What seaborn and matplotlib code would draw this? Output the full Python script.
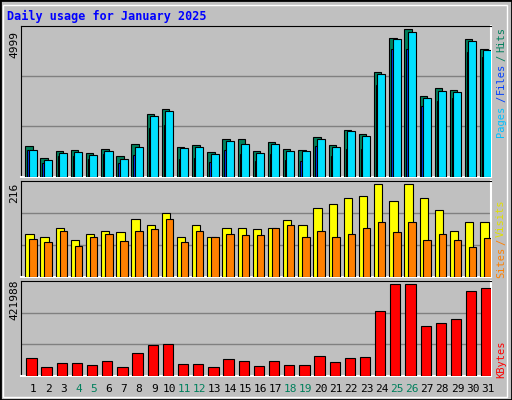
import numpy as np
import matplotlib
matplotlib.use("Agg")
import matplotlib.pyplot as plt
import seaborn as sns
from matplotlib.patches import Rectangle

sns.set_style("white")
plt.rcParams['font.family'] = ['DejaVu Sans Mono', 'DejaVu Sans']

days = list(range(1, 32))
weekend = [4, 5, 11, 12, 18, 19, 25, 26]
hits = [1011,611,844,878,778,911,678,1078,2078,2244,978,1044,811,1244,1244,844,1144,911,878,1311,1044,1544,1411,3478,4611,4911,2678,2944,2878,4578,4244]
files = [878,444,678,678,578,744,444,711,1611,1711,578,611,478,878,744,511,744,544,511,1011,678,911,911,3044,4244,4244,2344,2511,2611,4144,3978]
pages = [878,544,778,811,711,844,578,978,2011,2178,944,978,744,1178,1078,778,1078,844,844,1244,978,1511,1344,3411,4578,4811,2611,2844,2811,4511,4211]
visits = [101,92,113,85,99,108,104,134,122,148,92,122,92,113,115,111,115,132,122,160,169,183,188,216,176,216,183,155,106,129,127]
sites = [87,80,106,71,94,99,83,106,111,134,80,108,94,101,97,97,115,122,92,106,92,101,115,129,104,129,85,99,85,69,90]
kbytes = [80080,38500,56980,56980,47740,66220,38500,103180,140140,144760,52360,52360,38500,75460,66220,43120,66220,47740,47740,89320,61600,80080,84700,297220,421988,421988,227920,241780,260260,389620,403480]

W, H = 512, 400
BG = "#c0c0c0"
fig = plt.figure(figsize=(W/100, H/100), dpi=100, facecolor=BG)

fig.patches.append(Rectangle((0, 0), 1, 1, transform=fig.transFigure, fill=False, ec="black", lw=2))
fig.patches.append(Rectangle((3/W, 3/H), (W-8)/W, (H-8)/H, transform=fig.transFigure, fill=False, ec="white", lw=1))

def mkax(top, bottom):
    l, r = 20.7, 490.7
    ax = fig.add_axes([l/W, 1-bottom/H, (r-l)/W, (bottom-top)/H])
    ax.set_facecolor(BG)
    for s in ["top", "left"]:
        ax.spines[s].set_color("black")
    for s in ["bottom", "right"]:
        ax.spines[s].set_color("white")
        ax.spines[s].set_linewidth(1.5)
    ax.set_xlim(-0.5, 30.5)
    ax.set_xticks([])
    return ax

x = np.arange(31)
kw = dict(edgecolor="black", linewidth=0.8, zorder=3)

ax1 = mkax(26, 176.7)
top1 = 4999
ax1.set_ylim(0, top1)
ax1.bar(x + 0.05, hits, width=0.49, color="#00805c", **kw)
ax1.bar(x + 0.0, files, width=0.13, color="#0040ff", **kw)
ax1.bar(x + 0.29, pages, width=0.53, color="#00e0ff", **kw)
for g in (1/3, 2/3):
    ax1.axhline(top1*g, color="#808080", lw=1, zorder=1)
ax1.set_yticks([])

ax2 = mkax(181, 276.7)
top2 = 216*287/277
ax2.set_ylim(0, top2)
ax2.bar(x + 0.08, visits, width=0.55, color="#ffff00", **kw)
ax2.bar(x + 0.31, sites, width=0.49, color="#ff8000", **kw)
for g in (1/3, 2/3):
    ax2.axhline(top2*g, color="#808080", lw=1, zorder=1)
ax2.set_yticks([])

ax3 = mkax(281, 375.7)
top3 = 421988*284/274
ax3.set_ylim(0, top3)
ax3.bar(x + 0.21, kbytes, width=0.68, color="#ff0000", **kw)
for g in (1/3, 2/3):
    ax3.axhline(top3*g, color="#808080", lw=1, zorder=1)
ax3.set_yticks([])

for i, d in enumerate(days):
    ax3.text(i + 0.31, -0.14, str(d), transform=ax3.get_xaxis_transform(), ha="center", va="center",
             fontsize=8, color="#00805c" if d in weekend else "black")

def ft(xp, yp, s, color="black", rot=90, fs=8, **k):
    fig.text(xp/W, 1-yp/H, s, color=color, rotation=rot, ha="center", va="center", fontsize=fs, **k)

fig.text(7/W, 1-16/H, "Daily usage for January 2025", color="#0000ff", fontsize=8.5,
         fontweight="bold", ha="left", va="center")
ft(14, 44, "4999")
ft(14, 193, "216")
ft(14, 300, "421988")

ft(501, 40, "Hits", "#00805c", fs=7.5)
ft(501, 58, "/", "#00805c", fs=7.5)
ft(501, 78, "Files", "#0040ff", fs=7.5)
ft(501, 99, "/", "#0040ff", fs=7.5)
ft(501, 121, "Pages", "#00c0ff", fs=7.5)
ft(501, 218, "Visits", "#e0e000", fs=7.5)
ft(501, 242, "/", "#ff8000", fs=7.5)
ft(501, 262, "Sites", "#ff8000", fs=7.5)
ft(501, 359, "KBytes", "#ff0000", fs=7.5)

fig.savefig("out.png", dpi=100, facecolor=BG)
